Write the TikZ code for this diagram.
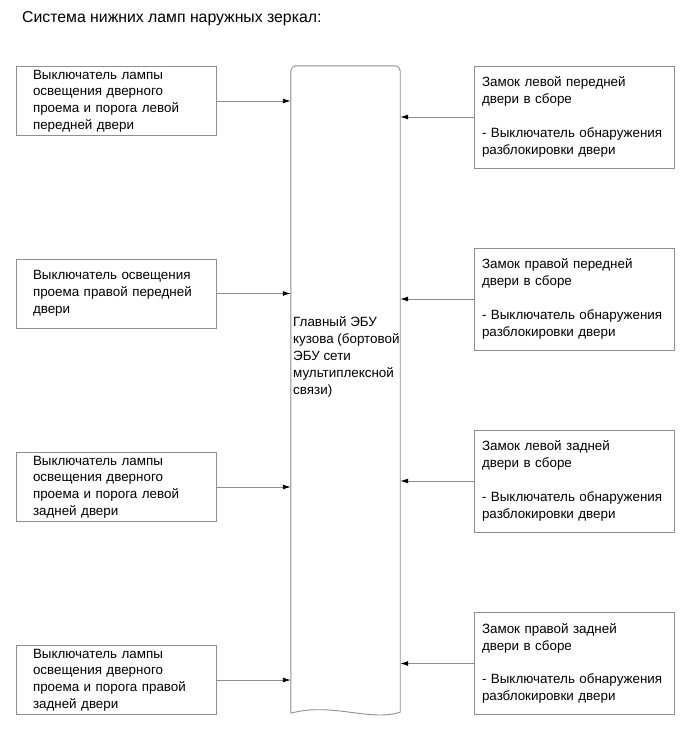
\documentclass[tikz,border=0pt]{standalone}
\usepackage{fontspec}
\setmainfont{Liberation Sans}
\usepackage{xcolor}
\usetikzlibrary{arrows.meta,positioning}
\definecolor{linegray}{HTML}{8E8E8E}
\newcommand{\boxfont}{\fontsize{13.4}{16.8}\selectfont}
\newcommand{\titlefont}{\fontsize{15.8}{18}\selectfont}

\begin{document}
\begin{tikzpicture}[x=1pt, y=-1pt,
  lbox/.style={draw=linegray, line width=0.9pt, minimum width=200pt, minimum height=69pt, text width=166pt, inner xsep=17pt, inner ysep=1pt, align=left, font=\boxfont},
  rbox/.style={draw=linegray, line width=0.9pt, minimum width=200pt, minimum height=102pt, text width=184pt, inner xsep=8pt, inner ysep=2pt, align=left, font=\boxfont},
  link/.style={draw=linegray, line width=0.9pt, -{Latex[black, length=8pt, width=5pt]}},
]
\useasboundingbox (0,0) rectangle (690,756);
\node[anchor=west, inner sep=0, font=\titlefont] (title) at (22,19) {Система нижних ламп наружных зеркал:};

\node[lbox] (lfront) at (116,101) {Выключатель лампы\\освещения дверного\\проема и порога левой\\передней двери};
\node[lbox] (rfront) at (116,293.5) {Выключатель освещения\\проема правой передней\\двери};
\node[lbox] (lrear) at (116,487) {Выключатель лампы\\освещения дверного\\проема и порога левой\\задней двери};
\node[lbox] (rrear) at (116,680) {Выключатель лампы\\освещения дверного\\проема и порога правой\\задней двери};

\node[rbox] (lflock) at (574,117) {Замок левой передней\\двери в сборе\\[16.8pt]- Выключатель обнаружения\\разблокировки двери};
\node[rbox] (rflock) at (574,299) {Замок правой передней\\двери в сборе\\[16.8pt]- Выключатель обнаружения\\разблокировки двери};
\node[rbox] (lrlock) at (574,481) {Замок левой задней\\двери в сборе\\[16.8pt]- Выключатель обнаружения\\разблокировки двери};
\node[rbox] (rrlock) at (574,663.5) {Замок правой задней\\двери в сборе\\[16.8pt]- Выключатель обнаружения\\разблокировки двери};

\node[minimum width=109pt, minimum height=647pt, inner sep=0] (body) at (345.5,389.5) {};
\draw[linegray, line width=0.9pt, rounded corners=5pt] (body.south west) -- (body.north west) -- (body.north east) [sharp corners] -- ([yshift=1pt]body.south east)
  .. controls (370,722) and (332,702) .. (body.south west);
\node[anchor=west, inner sep=0, align=left, font=\boxfont] (ecu) at (293,357) {Главный ЭБУ\\кузова (бортовой\\ЭБУ сети\\мультиплексной\\связи)};

\draw[link] (lfront.east) -- (lfront.east -| body.west);
\draw[link] (rfront.east) -- (rfront.east -| body.west);
\draw[link] (lrear.east) -- (lrear.east -| body.west);
\draw[link] (rrear.east) -- (rrear.east -| body.west);
\draw[link] (lflock.west) -- (lflock.west -| body.east);
\draw[link] (rflock.west) -- (rflock.west -| body.east);
\draw[link] (lrlock.west) -- (lrlock.west -| body.east);
\draw[link] (rrlock.west) -- (rrlock.west -| body.east);
\end{tikzpicture}
\end{document}
